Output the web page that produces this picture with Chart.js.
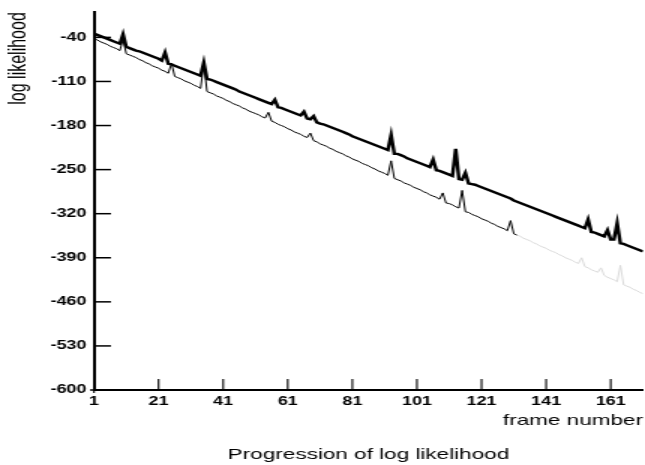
<!DOCTYPE html>
<html><head><meta charset="utf-8">
<script src="https://cdn.jsdelivr.net/npm/chart.js@4.4.1/dist/chart.umd.min.js"></script>
<style>
html,body{margin:0;padding:0;background:#fff;overflow:hidden;}
#wrap{width:430px;height:465px;transform:scale(1.5,1);transform-origin:0 0;}
canvas{display:block;}
</style></head><body>
<div id="wrap"><canvas id="c" width="430" height="465"></canvas></div>
<script>
// Upper (thick) series: log likelihood per frame
const upperSeries = [
-34,-36,-38,-40,-42,-44,-46,-48,-50,-35,
-55,-57,-59,-61,-62,-64,-66,-68,-70,-72,
-74,-77,-64,-82,-83,-85,-87,-89,-91,-93,
-95,-97,-99,-101,-80,-106,-107,-109,-111,-113,
-115,-117,-119,-121,-123,-126,-128,-130,-132,-134,
-136,-138,-140,-142,-144,-146,-139,-151,-152,-154,
-156,-158,-160,-162,-164,-158,-169,-170,-165,-175,
-177,-178,-180,-182,-184,-186,-188,-190,-192,-194,
-197,-199,-201,-203,-205,-207,-209,-211,-213,-215,
-217,-219,-195,-225,-225,-227,-229,-232,-234,-236,
-238,-240,-242,-244,-246,-234,-251,-252,-254,-256,
-258,-260,-217,-265,-266,-255,-272,-273,-274,-276,
-278,-280,-282,-284,-286,-288,-290,-292,-294,-296,
-299,-301,-303,-305,-307,-309,-311,-313,-315,-317,
-319,-321,-323,-325,-327,-329,-331,-333,-335,-337,
-339,-341,-343,-329,-349,-350,-352,-354,-356,-346,
-361,-361,-335,-367,-368,-370,-372,-374,-376,-378,
-380];
// Lower (thin) series
const lowerSeries = [
-42,-44,-47,-49,-51,-54,-56,-58,-61,-43,
-66,-68,-70,-72,-75,-77,-80,-82,-85,-87,
-89,-92,-94,-97,-81,-102,-104,-106,-109,-111,
-113,-116,-118,-121,-82,-126,-128,-130,-133,-135,
-137,-140,-142,-145,-147,-149,-152,-154,-157,-159,
-161,-163,-166,-168,-159,-173,-175,-178,-180,-182,
-185,-187,-190,-192,-194,-197,-199,-192,-204,-206,
-209,-211,-213,-216,-218,-221,-223,-225,-228,-230,
-233,-235,-237,-240,-242,-244,-247,-249,-252,-254,
-256,-259,-236,-264,-266,-268,-271,-273,-275,-278,
-280,-282,-285,-287,-290,-292,-294,-297,-287,-303,
-304,-306,-309,-311,-283,-317,-318,-321,-323,-325,
-328,-330,-332,-335,-337,-340,-342,-344,-347,-331,
-352,-354,-356,-359,-361,-363,-366,-368,-371,-373,
-375,-378,-380,-382,-385,-387,-390,-392,-394,-397,
-399,-390,-404,-406,-409,-411,-413,-406,-418,-421,
-423,-425,-428,-402,-433,-435,-437,-440,-442,-445,
-447];
const firstFrame = 1;
const frames = upperSeries.map((_, i) => firstFrame + i);
const xTickLabels = [1, 21, 41, 61, 81, 101, 121, 141, 161];
const yTickLabels = [-600, -530, -460, -390, -320, -250, -180, -110, -40];
const lowerGrayFromIndex = 131;

const FAMILY = "'Liberation Sans', Arial, Helvetica, sans-serif";
Chart.defaults.font.family = FAMILY;
Chart.defaults.color = '#000';

const tickMarks = {
  id: 'tickMarks',
  afterDraw(chart) {
    const {ctx, chartArea: a, scales: {x, y}} = chart;
    ctx.save();
    ctx.strokeStyle = '#000';
    ctx.lineWidth = 1.5;
    yTickLabels.forEach(v => {
      const py = y.getPixelForValue(v);
      ctx.beginPath();
      ctx.moveTo(v === -600 ? a.left - 2.7 : a.left, py);
      ctx.lineTo(a.left + 11.3, py);
      ctx.stroke();
    });
    ctx.lineWidth = 1.1;
    xTickLabels.forEach(v => {
      const px = x.getPixelForValue(v);
      ctx.beginPath();
      ctx.moveTo(px, a.bottom - 11);
      ctx.lineTo(px, a.bottom + (v === 1 ? 3 : 0));
      ctx.stroke();
    });
    ctx.restore();
  }
};

new Chart(document.getElementById('c'), {
  type: 'line',
  data: {
    datasets: [
      {
        label: 'upper',
        data: upperSeries.map((v, i) => ({x: frames[i], y: v})),
        borderColor: '#000', borderWidth: 2.4, pointRadius: 0, tension: 0, fill: false
      },
      {
        label: 'lower',
        data: lowerSeries.map((v, i) => ({x: frames[i], y: v})),
        borderColor: '#000', borderWidth: 1, pointRadius: 0, tension: 0, fill: false,
        segment: {borderColor: c => c.p0DataIndex >= lowerGrayFromIndex ? '#dadada' : '#000'}
      }
    ]
  },
  options: {
    responsive: false, animation: false, devicePixelRatio: 1,
    layout: {padding: {top: 5, right: 1.33, left: 0, bottom: 0}},
    plugins: {
      legend: {display: false}, tooltip: {enabled: false},
      title: {
        display: true, text: 'Progression of log likelihood', position: 'bottom', fullSize: false,
        color: '#000', font: {family: FAMILY, size: 15, weight: 'normal'}, padding: {top: 0, bottom: 1.3}
      }
    },
    scales: {
      x: {
        type: 'linear', min: 1, max: 171,
        grid: {display: false, drawTicks: false},
        border: {display: true, color: '#000', width: 2},
        afterBuildTicks: s => { s.ticks = xTickLabels.map(v => ({value: v})); },
        ticks: {font: {family: FAMILY, size: 12, weight: 'bold'}, color: '#000', padding: 4.5, maxRotation: 0, autoSkip: false},
        title: {display: true, text: 'frame number', align: 'end', color: '#000',
                font: {family: FAMILY, size: 15, weight: 'normal'}, padding: {top: 0, bottom: 16}},
        afterFit: s => { s.height = 55.7; }
      },
      y: {
        min: -600, max: 0,
        grid: {display: false, drawTicks: false},
        border: {display: true, color: '#000', width: 2},
        afterBuildTicks: s => { s.ticks = yTickLabels.map(v => ({value: v})); },
        ticks: {font: {family: FAMILY, size: 12, weight: 'bold'}, color: '#000', padding: 5, autoSkip: false},
        title: {display: true, text: 'log likelihood', align: 'end', color: '#000',
                font: {family: FAMILY, size: 16, weight: 'normal'}, padding: {top: 3, bottom: 0}},
        afterFit: s => { s.width = 62.67; }
      }
    }
  },
  plugins: [tickMarks]
});
</script>
</body></html>
